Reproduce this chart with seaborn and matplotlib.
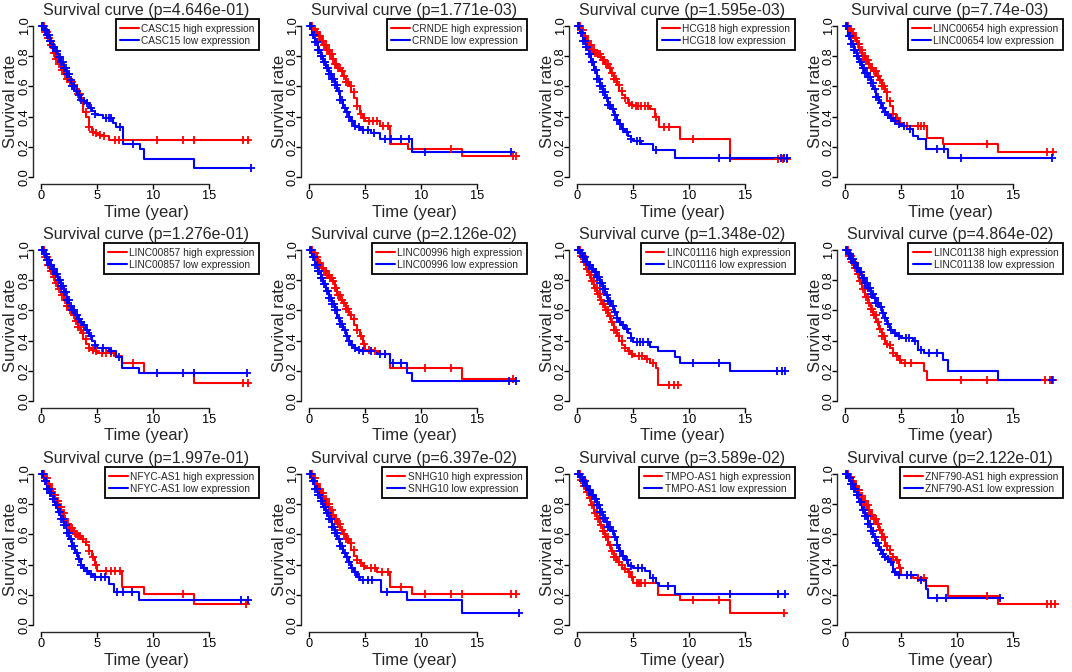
import numpy as np
import pandas as pd
import matplotlib
matplotlib.use("Agg")
import matplotlib.pyplot as plt
import seaborn as sns

# ---------------- data ----------------
GENES = ["CASC15", "CRNDE", "HCG18", "LINC00654",
         "LINC00857", "LINC00996", "LINC01116", "LINC01138",
         "NFYC-AS1", "SNHG10", "TMPO-AS1", "ZNF790-AS1"]
PVALUES = ["4.646e-01", "1.771e-03", "1.595e-03", "7.74e-03",
           "1.276e-01", "2.126e-02", "1.348e-02", "4.864e-02",
           "1.997e-01", "6.397e-02", "3.589e-02", "2.122e-01"]

# shared early step times (years); each curve lists its survival at these, then later steps
STEP_TIMES = [0.25, 0.5, 0.75, 1.0, 1.25, 1.5, 1.75, 2.0, 2.25, 2.5,
              2.75, 3.0, 3.25, 3.5, 3.75, 4.0, 4.25, 4.5, 4.75, 5.0]
EARLY_CENSORS_HIGH = [0.1, 0.22, 0.35, 0.48, 0.6, 0.72, 0.85, 0.97, 1.1, 1.22, 1.35,
                      1.48, 1.6, 1.72, 1.85, 1.98, 2.1, 2.25, 2.4, 2.55, 2.7, 2.88,
                      3.05, 3.25, 3.45, 3.7, 3.95, 4.25, 4.6, 4.9]
EARLY_CENSORS_LOW = [0.05, 0.15, 0.28, 0.4, 0.52, 0.66, 0.78, 0.9, 1.03, 1.16, 1.28,
                     1.42, 1.55, 1.66, 1.78, 1.92, 2.04, 2.18, 2.32, 2.46, 2.62, 2.78,
                     2.95, 3.15, 3.35, 3.58, 3.82, 4.1, 4.4, 4.75]

CASC15_HIGH_S = [0.96, 0.92, 0.87, 0.82, 0.78, 0.75, 0.71, 0.68, 0.65, 0.63, 0.61, 0.58, 0.55, 0.50, 0.43, 0.40, 0.33, 0.30, 0.29, 0.28, 0.27, 0.245]
CASC15_HIGH_T = [5.5, 6.0]
CASC15_HIGH_C = [5.2, 5.6, 6.6, 6.9, 10.3, 12.7, 13.6, 18.0, 18.5]
CASC15_LOW_S = [0.97, 0.94, 0.90, 0.86, 0.83, 0.79, 0.76, 0.72, 0.68, 0.64, 0.60, 0.57, 0.54, 0.51, 0.50, 0.49, 0.46, 0.44, 0.42, 0.41, 0.39, 0.36, 0.33, 0.22, 0.19, 0.12, 0.06]
CASC15_LOW_T = [5.5, 6.4, 6.7, 7.3, 8.8, 9.2, 13.6]
CASC15_LOW_C = [5.8, 6.0, 6.2, 7.0, 8.2, 18.7]

CRNDE_HIGH_S = [0.98, 0.96, 0.93, 0.90, 0.87, 0.84, 0.81, 0.78, 0.75, 0.72, 0.70, 0.67, 0.63, 0.60, 0.56, 0.52, 0.47, 0.42, 0.39, 0.37, 0.34, 0.22, 0.19, 0.14]
CRNDE_HIGH_T = [6.3, 7.2, 8.8, 13.6]
CRNDE_HIGH_C = [5.3, 5.7, 6.0, 6.6, 7.0, 12.7, 18.2, 18.5]
CRNDE_LOW_S = [0.94, 0.89, 0.84, 0.80, 0.76, 0.72, 0.68, 0.65, 0.61, 0.57, 0.51, 0.46, 0.43, 0.40, 0.37, 0.34, 0.33, 0.32, 0.31, 0.31, 0.29, 0.25, 0.165]
CRNDE_LOW_T = [5.5, 6.3, 9.2]
CRNDE_LOW_C = [5.2, 5.8, 6.8, 7.3, 8.2, 8.9, 10.3, 18.0]

HCG18_HIGH_S = [0.97, 0.93, 0.90, 0.87, 0.84, 0.82, 0.81, 0.79, 0.77, 0.75, 0.72, 0.69, 0.65, 0.61, 0.57, 0.54, 0.52, 0.49, 0.48, 0.47, 0.45, 0.40, 0.33, 0.25, 0.12]
HCG18_HIGH_T = [6.5, 6.9, 7.3, 9.2, 13.6]
HCG18_HIGH_C = [5.2, 5.4, 5.7, 6.0, 6.3, 7.0, 7.7, 8.2, 10.3, 17.9, 18.4, 18.7]
HCG18_LOW_S = [0.95, 0.90, 0.86, 0.81, 0.76, 0.71, 0.65, 0.60, 0.56, 0.52, 0.48, 0.45, 0.41, 0.38, 0.35, 0.32, 0.30, 0.27, 0.25, 0.24, 0.22, 0.18, 0.125]
HCG18_LOW_T = [5.7, 6.8, 8.7]
HCG18_LOW_C = [5.3, 5.6, 7.0, 12.7, 13.6, 18.2, 18.5, 18.7]

LINC00654_HIGH_S = [0.98, 0.95, 0.92, 0.88, 0.84, 0.80, 0.77, 0.75, 0.72, 0.70, 0.67, 0.64, 0.60, 0.56, 0.50, 0.47, 0.42, 0.39, 0.36, 0.34, 0.26, 0.22, 0.165]
LINC00654_HIGH_T = [7.3, 8.7, 13.6]
LINC00654_HIGH_C = [5.5, 6.5, 6.8, 7.0, 12.7, 18.0, 18.6]
LINC00654_LOW_S = [0.93, 0.88, 0.84, 0.80, 0.76, 0.72, 0.69, 0.66, 0.62, 0.58, 0.53, 0.49, 0.46, 0.43, 0.41, 0.39, 0.37, 0.36, 0.35, 0.34, 0.32, 0.27, 0.25, 0.19, 0.125]
LINC00654_LOW_T = [5.5, 6.0, 6.5, 7.2, 9.2]
LINC00654_LOW_C = [5.2, 5.8, 8.2, 8.8, 10.3, 18.5]

LINC00857_HIGH_S = [0.95, 0.90, 0.86, 0.82, 0.78, 0.74, 0.70, 0.67, 0.63, 0.60, 0.57, 0.53, 0.49, 0.45, 0.41, 0.38, 0.35, 0.34, 0.33, 0.32, 0.30, 0.25, 0.19, 0.12]
LINC00857_HIGH_T = [6.5, 7.2, 9.2, 13.6]
LINC00857_HIGH_C = [5.4, 5.8, 6.2, 8.2, 18.0, 18.5]
LINC00857_LOW_S = [0.97, 0.93, 0.90, 0.87, 0.84, 0.80, 0.76, 0.72, 0.67, 0.63, 0.60, 0.57, 0.54, 0.52, 0.50, 0.47, 0.43, 0.40, 0.37, 0.35, 0.33, 0.29, 0.22, 0.185]
LINC00857_LOW_T = [6.0, 6.7, 7.2, 8.7]
LINC00857_LOW_C = [5.5, 6.2, 6.9, 10.3, 12.7, 13.6, 18.4]

LINC00996_HIGH_S = [0.98, 0.95, 0.91, 0.88, 0.86, 0.83, 0.81, 0.79, 0.75, 0.70, 0.67, 0.65, 0.61, 0.57, 0.54, 0.50, 0.47, 0.43, 0.38, 0.34, 0.33, 0.31, 0.22, 0.15]
LINC00996_HIGH_T = [5.7, 6.2, 7.2, 13.6]
LINC00996_HIGH_C = [5.3, 5.9, 6.8, 10.3, 12.7, 18.2]
LINC00996_LOW_S = [0.95, 0.90, 0.86, 0.81, 0.77, 0.73, 0.68, 0.64, 0.60, 0.55, 0.51, 0.47, 0.43, 0.40, 0.37, 0.35, 0.34, 0.335, 0.335, 0.33, 0.31, 0.25, 0.19, 0.135]
LINC00996_LOW_T = [6.0, 7.2, 8.7, 9.2]
LINC00996_LOW_C = [5.5, 6.3, 6.8, 7.5, 8.2, 17.8, 18.5]

LINC01116_HIGH_S = [0.96, 0.92, 0.87, 0.83, 0.79, 0.75, 0.71, 0.67, 0.64, 0.60, 0.56, 0.52, 0.47, 0.43, 0.40, 0.37, 0.35, 0.33, 0.31, 0.30, 0.28, 0.25, 0.22, 0.11]
LINC01116_HIGH_T = [6.0, 6.5, 7.0, 7.2]
LINC01116_HIGH_C = [5.5, 5.8, 6.2, 6.8, 8.2, 8.6, 9.0]
LINC01116_LOW_S = [0.98, 0.95, 0.92, 0.90, 0.87, 0.85, 0.82, 0.78, 0.74, 0.70, 0.66, 0.63, 0.59, 0.55, 0.52, 0.50, 0.48, 0.45, 0.42, 0.39, 0.36, 0.33, 0.29, 0.25, 0.20]
LINC01116_LOW_T = [6.5, 7.2, 8.7, 9.2, 13.6]
LINC01116_LOW_C = [5.3, 5.6, 5.9, 6.3, 10.3, 12.7, 17.8, 18.3, 18.6]

LINC01138_HIGH_S = [0.96, 0.92, 0.88, 0.84, 0.79, 0.74, 0.69, 0.65, 0.61, 0.57, 0.52, 0.48, 0.43, 0.38, 0.37, 0.35, 0.32, 0.30, 0.27, 0.25, 0.20, 0.14]
LINC01138_HIGH_T = [7.0, 7.3]
LINC01138_HIGH_C = [5.3, 5.9, 10.3, 12.7, 17.8, 18.3, 18.6]
LINC01138_LOW_S = [0.97, 0.94, 0.91, 0.88, 0.85, 0.81, 0.78, 0.75, 0.71, 0.68, 0.65, 0.62, 0.58, 0.55, 0.51, 0.47, 0.45, 0.44, 0.43, 0.42, 0.40, 0.34, 0.32, 0.27, 0.20, 0.14]
LINC01138_LOW_T = [6.0, 6.5, 7.0, 8.7, 9.2, 13.6]
LINC01138_LOW_C = [5.4, 5.7, 6.2, 6.8, 7.5, 8.2, 18.5]

NFYC_AS1_HIGH_S = [0.97, 0.93, 0.90, 0.86, 0.82, 0.78, 0.74, 0.70, 0.67, 0.64, 0.62, 0.60, 0.59, 0.57, 0.55, 0.53, 0.49, 0.45, 0.40, 0.36, 0.25, 0.205, 0.14]
NFYC_AS1_HIGH_T = [7.2, 9.2, 13.6]
NFYC_AS1_HIGH_C = [5.8, 6.2, 6.6, 7.0, 12.7, 18.3]
NFYC_AS1_LOW_S = [0.95, 0.90, 0.87, 0.83, 0.79, 0.75, 0.70, 0.66, 0.61, 0.57, 0.52, 0.48, 0.44, 0.40, 0.38, 0.36, 0.34, 0.33, 0.32, 0.32, 0.27, 0.22, 0.17]
NFYC_AS1_LOW_T = [6.0, 6.5, 8.7]
NFYC_AS1_LOW_C = [5.3, 5.7, 6.8, 7.3, 8.1, 17.8, 18.5]

SNHG10_HIGH_S = [0.97, 0.93, 0.90, 0.87, 0.83, 0.80, 0.76, 0.73, 0.70, 0.67, 0.63, 0.60, 0.57, 0.54, 0.50, 0.46, 0.43, 0.41, 0.39, 0.38, 0.35, 0.25, 0.21]
SNHG10_HIGH_T = [6.0, 7.2, 9.2]
SNHG10_HIGH_C = [5.5, 5.9, 6.5, 7.0, 8.2, 10.3, 12.7, 13.6, 18.0, 18.5]
SNHG10_LOW_S = [0.95, 0.90, 0.86, 0.82, 0.78, 0.74, 0.70, 0.65, 0.61, 0.57, 0.52, 0.48, 0.45, 0.42, 0.38, 0.35, 0.32, 0.30, 0.30, 0.30, 0.22, 0.165, 0.08]
SNHG10_LOW_T = [6.4, 8.7, 13.6]
SNHG10_LOW_C = [5.2, 5.6, 6.9, 18.7]

TMPO_AS1_HIGH_S = [0.96, 0.92, 0.88, 0.84, 0.79, 0.74, 0.70, 0.66, 0.62, 0.58, 0.53, 0.49, 0.45, 0.42, 0.40, 0.38, 0.37, 0.35, 0.32, 0.28, 0.20, 0.165, 0.08]
TMPO_AS1_HIGH_T = [7.2, 9.2, 13.6]
TMPO_AS1_HIGH_C = [5.3, 5.5, 5.7, 6.0, 10.3, 12.7, 18.5]
TMPO_AS1_LOW_S = [0.98, 0.95, 0.92, 0.89, 0.86, 0.83, 0.79, 0.75, 0.71, 0.68, 0.65, 0.62, 0.58, 0.53, 0.49, 0.46, 0.43, 0.40, 0.39, 0.38, 0.36, 0.31, 0.28, 0.26, 0.21]
TMPO_AS1_LOW_T = [6.0, 6.5, 7.0, 7.3, 8.7]
TMPO_AS1_LOW_C = [5.4, 5.8, 6.8, 8.1, 13.6, 17.9, 18.6]

ZNF790_AS1_HIGH_S = [0.98, 0.95, 0.92, 0.89, 0.85, 0.82, 0.79, 0.76, 0.73, 0.70, 0.67, 0.63, 0.58, 0.52, 0.50, 0.47, 0.45, 0.43, 0.38, 0.33, 0.31, 0.26, 0.195, 0.14]
ZNF790_AS1_HIGH_T = [6.0, 7.2, 9.2, 13.6]
ZNF790_AS1_HIGH_C = [5.5, 6.5, 7.0, 12.7, 18.0, 18.4, 18.7]
ZNF790_AS1_LOW_S = [0.97, 0.93, 0.90, 0.86, 0.81, 0.76, 0.72, 0.67, 0.62, 0.58, 0.54, 0.50, 0.47, 0.45, 0.44, 0.42, 0.35, 0.34, 0.33, 0.33, 0.30, 0.24, 0.18]
ZNF790_AS1_LOW_T = [6.5, 7.2, 7.4]
ZNF790_AS1_LOW_C = [5.5, 5.9, 6.8, 8.2, 9.0, 13.8]

HIGH_CURVES = [
    (CASC15_HIGH_T, CASC15_HIGH_S, CASC15_HIGH_C),
    (CRNDE_HIGH_T, CRNDE_HIGH_S, CRNDE_HIGH_C),
    (HCG18_HIGH_T, HCG18_HIGH_S, HCG18_HIGH_C),
    (LINC00654_HIGH_T, LINC00654_HIGH_S, LINC00654_HIGH_C),
    (LINC00857_HIGH_T, LINC00857_HIGH_S, LINC00857_HIGH_C),
    (LINC00996_HIGH_T, LINC00996_HIGH_S, LINC00996_HIGH_C),
    (LINC01116_HIGH_T, LINC01116_HIGH_S, LINC01116_HIGH_C),
    (LINC01138_HIGH_T, LINC01138_HIGH_S, LINC01138_HIGH_C),
    (NFYC_AS1_HIGH_T, NFYC_AS1_HIGH_S, NFYC_AS1_HIGH_C),
    (SNHG10_HIGH_T, SNHG10_HIGH_S, SNHG10_HIGH_C),
    (TMPO_AS1_HIGH_T, TMPO_AS1_HIGH_S, TMPO_AS1_HIGH_C),
    (ZNF790_AS1_HIGH_T, ZNF790_AS1_HIGH_S, ZNF790_AS1_HIGH_C),
]
LOW_CURVES = [
    (CASC15_LOW_T, CASC15_LOW_S, CASC15_LOW_C),
    (CRNDE_LOW_T, CRNDE_LOW_S, CRNDE_LOW_C),
    (HCG18_LOW_T, HCG18_LOW_S, HCG18_LOW_C),
    (LINC00654_LOW_T, LINC00654_LOW_S, LINC00654_LOW_C),
    (LINC00857_LOW_T, LINC00857_LOW_S, LINC00857_LOW_C),
    (LINC00996_LOW_T, LINC00996_LOW_S, LINC00996_LOW_C),
    (LINC01116_LOW_T, LINC01116_LOW_S, LINC01116_LOW_C),
    (LINC01138_LOW_T, LINC01138_LOW_S, LINC01138_LOW_C),
    (NFYC_AS1_LOW_T, NFYC_AS1_LOW_S, NFYC_AS1_LOW_C),
    (SNHG10_LOW_T, SNHG10_LOW_S, SNHG10_LOW_C),
    (TMPO_AS1_LOW_T, TMPO_AS1_LOW_S, TMPO_AS1_LOW_C),
    (ZNF790_AS1_LOW_T, ZNF790_AS1_LOW_S, ZNF790_AS1_LOW_C),
]

X_TICKS = [0, 5, 10, 15]
Y_TICKS = [0.0, 0.2, 0.4, 0.6, 0.8, 1.0]

# ---------------- drawing ----------------
sns.set_style("ticks")
plt.rcParams['font.family'] = ['Liberation Sans', 'DejaVu Sans']

W, H = 1072, 672
PW, PH = 268, 224
AX_L, AX_W = 33, 226
AX_B, AX_H = 184, 165

fig = plt.figure(figsize=(W / 100, H / 100), dpi=100)


def draw_curve(ax, late_t, surv, cens, early_cens, color, label):
    t = [0.0] + STEP_TIMES + list(late_t)
    s = [1.0] + list(surv)
    all_c = list(early_cens) + list(cens)
    end = max(all_c)
    if end > t[-1]:
        t.append(end)
        s.append(s[-1])
    df = pd.DataFrame({"time": t, "surv": s})
    sns.lineplot(data=df, x="time", y="surv", drawstyle="steps-post", color=color,
                 linewidth=1.5, estimator=None, sort=False, ax=ax, label=label)
    idx = np.searchsorted(np.array(t), np.array(all_c), side="right") - 1
    cy = np.array(s)[idx]
    ax.scatter(all_c, cy, marker="+", s=36, color=color, linewidths=1.3, zorder=3)


for i, gene in enumerate(GENES):
    r, c = divmod(i, 4)
    ax = fig.add_axes([(c * PW + AX_L) / W, 1 - (r * PH + AX_B) / H, AX_W / W, AX_H / H])
    ht, hs, hc = HIGH_CURVES[i]
    lt, ls, lc = LOW_CURVES[i]
    draw_curve(ax, ht, hs, hc, EARLY_CENSORS_HIGH, "#ff0000", f"{gene} high expression")
    draw_curve(ax, lt, ls, lc, EARLY_CENSORS_LOW, "#0000ff", f"{gene} low expression")

    ax.set_xlim(-0.75, 19.45)
    ax.set_ylim(-0.043, 1.043)
    ax.set_xticks(X_TICKS)
    ax.set_yticks(Y_TICKS)
    ax.set_xticklabels([str(v) for v in X_TICKS])
    ax.set_yticklabels([f"{v:.1f}" for v in Y_TICKS], rotation=90, va="center", ha="center")
    for side in ("top", "right"):
        ax.spines[side].set_visible(False)
    ax.spines["left"].set_bounds(0, 1)
    ax.spines["bottom"].set_bounds(0, 15)
    ax.spines["left"].set_linewidth(1.0)
    ax.spines["bottom"].set_linewidth(1.0)
    ax.tick_params(direction="out", length=3.6, width=1.0, labelsize=9.2, colors="black")
    ax.tick_params(axis="y", pad=2.2)
    ax.tick_params(axis="x", pad=0.4)
    ax.set_title(f"Survival curve (p={PVALUES[i]})", fontsize=11.5, pad=3)
    ax.set_xlabel("Time (year)", fontsize=12)
    ax.set_ylabel("Survival rate", fontsize=12)
    ax.yaxis.set_label_coords((18.5 - AX_L) / AX_W, 0.5)
    ax.xaxis.set_label_coords(0.5, (AX_B - 204.5) / AX_H)

    leg = ax.legend(loc="upper right", borderaxespad=0, frameon=True, fancybox=False,
                    edgecolor="black", framealpha=1, fontsize=7.3, handlelength=1.8,
                    handletextpad=0.25, borderpad=0.45, labelspacing=0.2)
    leg.get_frame().set_linewidth(1.3)

fig.savefig("out.png", dpi=100)
